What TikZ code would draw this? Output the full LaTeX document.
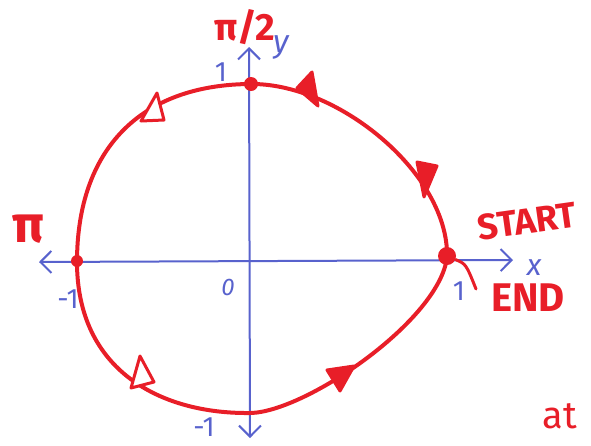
\documentclass[tikz,border=0pt]{standalone}
\usepackage{fontspec}
\setmainfont{Fira Sans}
\usetikzlibrary{arrows.meta}
\definecolor{pen}{RGB}{232,30,40}
\definecolor{ink}{RGB}{88,98,205}
\begin{document}
\begin{tikzpicture}[x=1pt,y=-1pt,
  redline/.style={draw=pen,line width=4pt,line cap=round,line join=round},
  axisline/.style={draw=ink,line width=2pt,line cap=round,
    {Straight Barb[length=11pt,width=22pt,line width=2pt]}-{Straight Barb[length=11pt,width=22pt,line width=2pt]}},
  dotnode/.style={circle,fill=pen,inner sep=0pt,minimum size=14pt},
  bluelab/.style={text=ink,inner sep=0pt,font=\fontsize{28}{28}\selectfont},
  redlab/.style={text=pen,inner sep=0pt,font=\fontsize{38}{38}\selectfont\bfseries},
  filltri/.style={fill=pen,draw=pen,line width=3pt,line join=round},
  opentri/.style={draw=pen,fill=white,line width=3pt,line join=round}
]
\useasboundingbox (0,0) rectangle (591,445);
% axes
\coordinate (xl) at (39,262);
\coordinate (xr) at (513,260);
\coordinate (yb) at (250,438);
\coordinate (yt) at (249,47);
\draw[axisline] (xl) -- (xr);
\draw[axisline] (yb) -- (yt);
% circle through the four axis points
\coordinate (pr) at (447,257);
\coordinate (pt) at (252,84);
\coordinate (pl) at (77,262);
\coordinate (pb) at (250,413);
\draw[redline] (pr) .. controls (449,175) and (340,84) .. (pt)
  .. controls (140,84) and (77,150) .. (pl)
  .. controls (77,370) and (160,414) .. (pb)
  .. controls (305,412.4) and (440,320) .. (pr) -- cycle;
% direction marks, as drawn
\path[filltri] (417,162) -- (437,166) -- (424,197) -- cycle;
\path[filltri] (312,72) -- (297,88) -- (318,106) -- cycle;
\path[opentri] (157,93) -- (141,121) -- (164,120) -- cycle;
\path[opentri] (140,356) -- (131,388) -- (154,382) -- cycle;
\path[filltri] (327,370) -- (354,366) -- (340,391) -- cycle;
% dots
\node[dotnode,minimum size=18pt] (start) at (447,256) {};
\node[dotnode] (topdot) at (251,84) {};
\node[dotnode,minimum size=12pt] (leftdot) at (77,261) {};
\coordinate (tail) at (476,289);
\draw[redline,line width=3pt] (start) .. controls (466,264) .. (tail);
% labels
\node[redlab,font=\fontsize{36}{36}\selectfont\bfseries,rotate=8] (startlab) at (527,221) {START};
\node[redlab,font=\fontsize{40}{40}\selectfont\bfseries] (endlab) at (528,298) {END};
\node[redlab] (halfpi) at (245,27) {π/2};
\node[redlab,font=\fontsize{52}{52}\selectfont\bfseries] (pilab) at (28,229) {π};
\node[redlab,font=\fontsize{38}{38}\selectfont] (atlab) at (560,416) {at};
\node[bluelab,font=\fontsize{32}{32}\selectfont\itshape] (ylab) at (281,47) {y};
\node[bluelab,font=\fontsize{30}{30}\selectfont\itshape] (xlab) at (534,268) {x};
\node[bluelab] (one1) at (221,72) {1};
\node[bluelab] (one2) at (459,291) {1};
\node[bluelab] (mone1) at (68,299) {-1};
\node[bluelab] (mone2) at (204,427) {-1};
\node[bluelab,font=\fontsize{24}{24}\selectfont\itshape] (zero) at (228,287) {0};
\end{tikzpicture}
\end{document}
